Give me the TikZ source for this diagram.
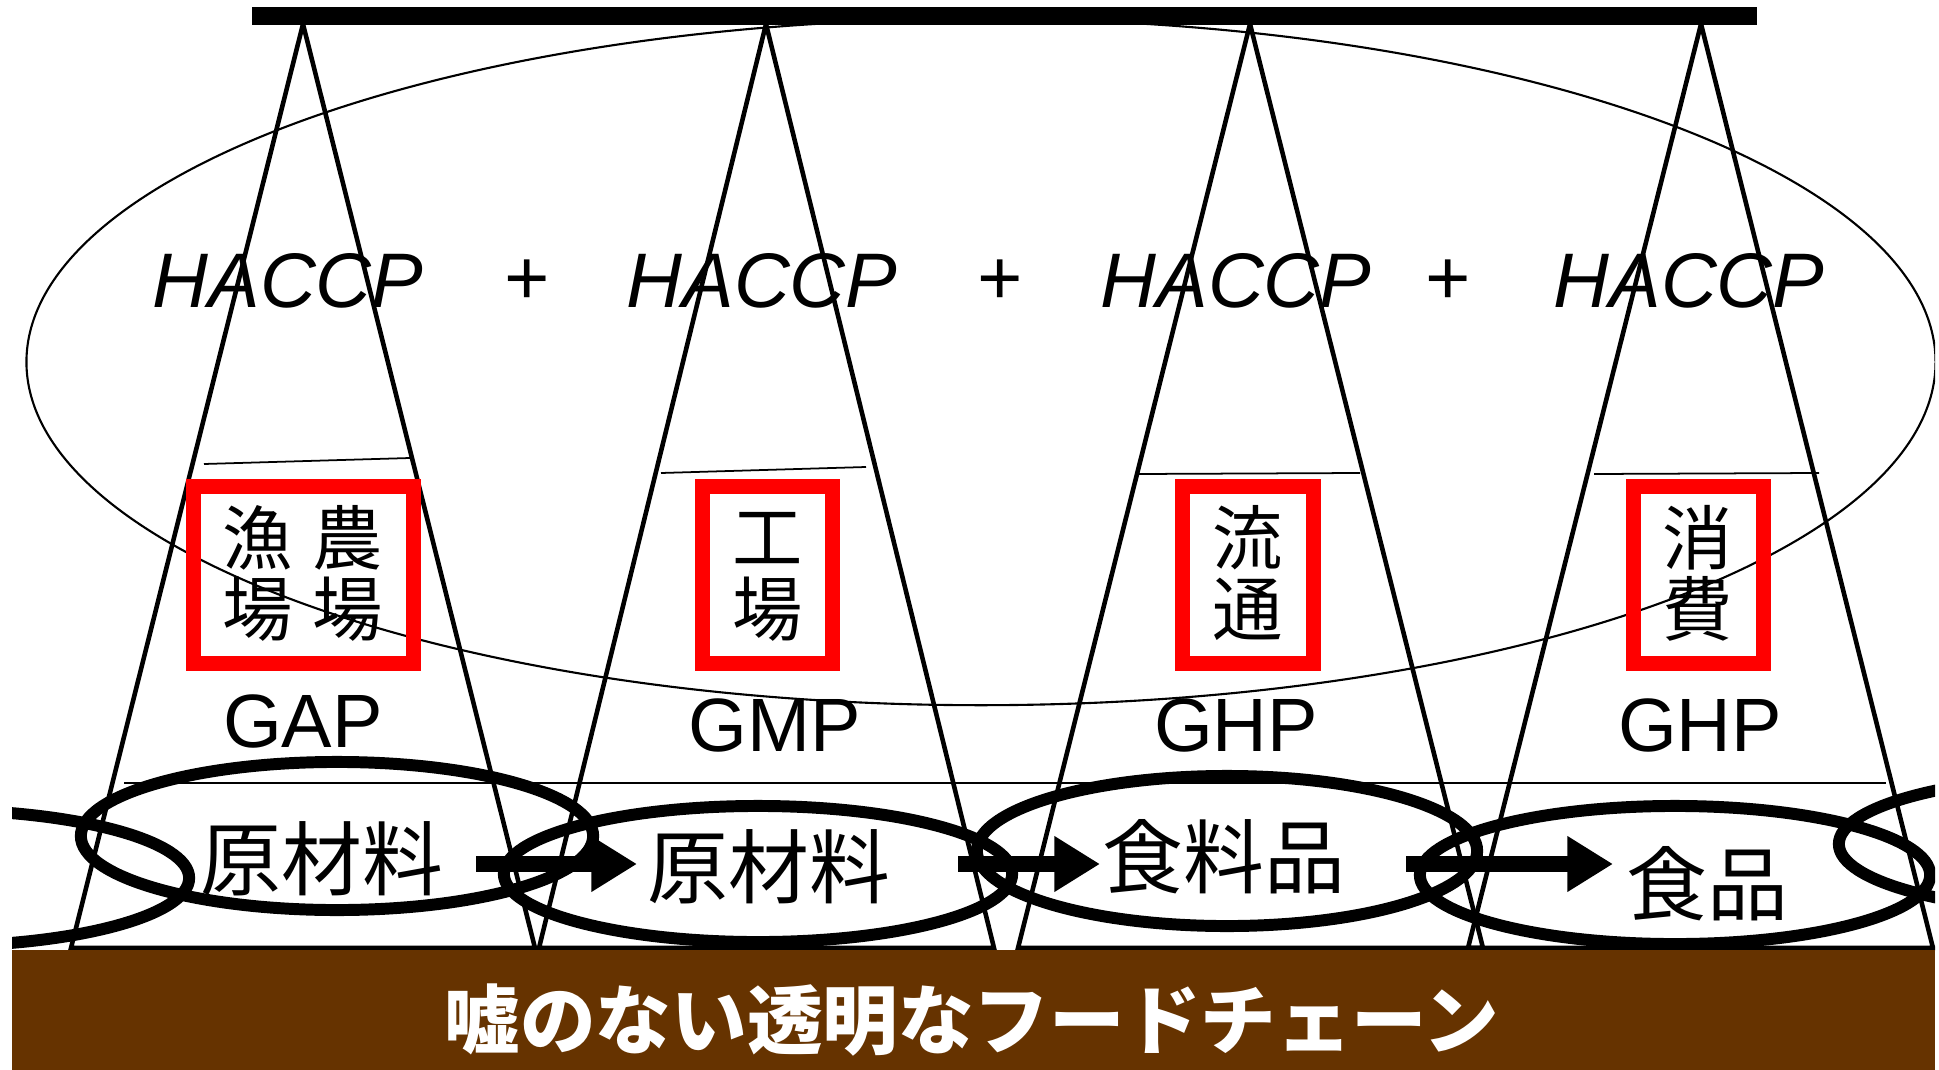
\documentclass[tikz,border=0pt]{standalone}
\usepackage{fontspec}
\setmainfont{Liberation Sans}
\newfontfamily\cjk{Noto Sans CJK JP}
\usetikzlibrary{arrows.meta}
\definecolor{brownbg}{RGB}{102,51,0}
\tikzset{
  tri/.style={line width=1.3pt, line join=miter},
  thinl/.style={line width=0.5pt},
  bigell/.style={line width=0.6pt},
  chainell/.style={line width=3.4pt},
  redbox/.style={draw=red, line width=4.3pt},
  bigarrow/.style={line width=4.3pt, -{Triangle[length=13pt,width=15pt]}},
  haccp/.style={inner sep=0pt, font=\fontsize{22}{26}\selectfont\itshape},
  gxp/.style={inner sep=0pt, font=\fontsize{21.5}{26}\selectfont},
  boxch/.style={inner sep=0pt, font=\cjk\fontsize{20}{24}\selectfont},
  chaint/.style={inner sep=0pt, font=\cjk\fontsize{23}{28}\selectfont},
  bantxt/.style={inner sep=0pt, text=white, font=\cjk\bfseries\fontsize{21.5}{26}\selectfont}
}
\begin{document}
\begin{tikzpicture}[x=0.01cm, y=-0.01cm]
\useasboundingbox (0,0) rectangle (1939,1070);
\begin{scope}
\clip (12,0) rectangle (1935,1070);
% big thin ellipse
\draw[bigell] (981,362) ellipse [x radius=9.54cm, y radius=3.43cm];
% triangles
\draw[tri] (303,24) -- (71,948) -- (535,948) -- cycle;
\draw[tri] (766,24) -- (539,948) -- (994,948) -- cycle;
\draw[tri] (1250,24) -- (1018,948) -- (1483,948) -- cycle;
\draw[tri] (1701,24) -- (1468,948) -- (1933,948) -- cycle;
% top bar
\draw[line width=4.9pt] (252,16) -- (1757,16);
% thin layer lines
\draw[thinl] (204,464) -- (410,458);
\draw[thinl] (661,473) -- (866,467);
\draw[thinl] (1138,474) -- (1360,473);
\draw[thinl] (1594,474) -- (1819,473);
\draw[thinl] (124,783) -- (1886,783);
% red boxes
\draw[redbox] (193.5,486.5) rectangle (413.5,663.5);
\draw[redbox] (702.5,486.5) rectangle (832.5,663.5);
\draw[redbox] (1182.5,486.5) rectangle (1313.5,663.5);
\draw[redbox] (1633.5,486.5) rectangle (1763.5,663.5);
% chain ellipses
\draw[chainell] (-65,878) ellipse [x radius=2.54cm, y radius=0.68cm];
\draw[chainell] (337,836) ellipse [x radius=2.56cm, y radius=0.74cm];
\draw[chainell] (758,874) ellipse [x radius=2.54cm, y radius=0.68cm];
\draw[chainell] (1227,851) ellipse [x radius=2.50cm, y radius=0.75cm];
\draw[chainell] (1675,875) ellipse [x radius=2.55cm, y radius=0.69cm];
\draw[chainell] (2093,844) ellipse [x radius=2.54cm, y radius=0.68cm];
\end{scope}
% arrows
\coordinate (a1s) at (476,864); \coordinate (a1e) at (637,864);
\coordinate (a2s) at (958,864); \coordinate (a2e) at (1100,864);
\coordinate (a3s) at (1406,864); \coordinate (a3e) at (1613,864);
\draw[bigarrow] (a1s) -- (a1e);
\draw[bigarrow] (a2s) -- (a2e);
\draw[bigarrow] (a3s) -- (a3e);
% HACCP texts
\node[haccp] (h1) at (288,281) {HACCP};
\node[haccp] (p1) at (526,282) {+};
\node[haccp] (h2) at (762,281) {HACCP};
\node[haccp] (p2) at (999,282) {+};
\node[haccp] (h3) at (1236,281) {HACCP};
\node[haccp] (p3) at (1447,282) {+};
\node[haccp] (h4) at (1689,281) {HACCP};
% box characters
\node[boxch] (b1a) at (258,538) {漁};
\node[boxch] (b1b) at (348,538) {農};
\node[boxch] (b1c) at (258,609) {場};
\node[boxch] (b1d) at (348,609) {場};
\node[boxch] (b2a) at (768,538) {工};
\node[boxch] (b2b) at (768,609) {場};
\node[boxch] (b3a) at (1248,538) {流};
\node[boxch] (b3b) at (1248,609) {通};
\node[boxch] (b4a) at (1698,538) {消};
\node[boxch] (b4b) at (1698,609) {費};
% GAP etc
\node[gxp] (g1) at (303,721) {GAP};
\node[gxp] (g2) at (775,725) {GMP};
\node[gxp] (g3) at (1236,725) {GHP};
\node[gxp] (g4) at (1700,725) {GHP};
% chain texts
\node[chaint] (c1) at (322,859) {原材料};
\node[chaint] (c2) at (769,867) {原材料};
\node[chaint] (c3) at (1224,857) {食料品};
\node[chaint] (c4) at (1707,884) {食品};
% brown banner
\fill[brownbg] (12,950) rectangle (1935,1070);
\node[bantxt] (ban) at (972,1020) {嘘のない透明なフードチェーン};
\end{tikzpicture}
\end{document}
